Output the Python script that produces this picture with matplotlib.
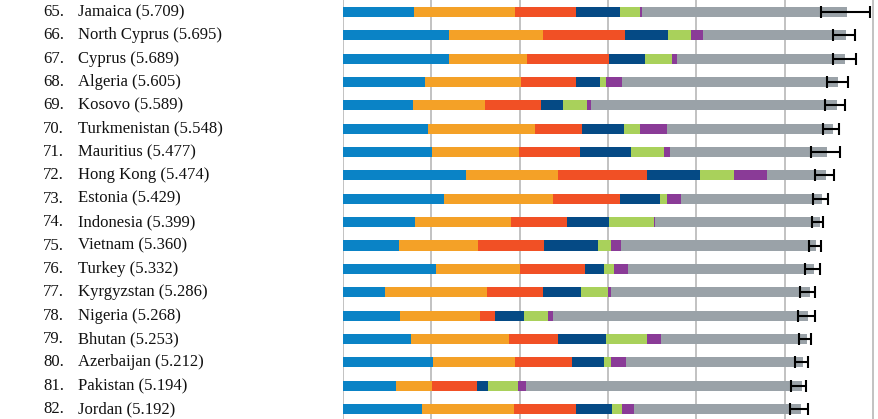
import numpy as np
import matplotlib
matplotlib.use("Agg")
import matplotlib.pyplot as plt
from matplotlib.transforms import blended_transform_factory

# World happiness ranking, rows 65-82
ranks = list(range(65, 83))
countries = ["Jamaica", "North Cyprus", "Cyprus", "Algeria", "Kosovo",
             "Turkmenistan", "Mauritius", "Hong Kong", "Estonia", "Indonesia",
             "Vietnam", "Turkey", "Kyrgyzstan", "Nigeria", "Bhutan",
             "Azerbaijan", "Pakistan", "Jordan"]
scores = [5.709, 5.695, 5.689, 5.605, 5.589, 5.548, 5.477, 5.474, 5.429,
          5.399, 5.360, 5.332, 5.286, 5.268, 5.253, 5.212, 5.194, 5.192]

# explained parts (the rest up to the score is dystopia + residual)
gdp = [0.809, 1.206, 1.206, 0.934, 0.798, 0.957, 1.004, 1.389, 1.148,
       0.821, 0.630, 1.058, 0.471, 0.650, 0.767, 1.023, 0.595, 0.899]
social = [1.144, 1.062, 0.883, 1.078, 0.805, 1.222, 0.984, 1.051, 1.226,
          1.086, 0.903, 0.942, 1.155, 0.906, 1.108, 0.930, 0.409, 1.043]
health = [0.689, 0.930, 0.927, 0.622, 0.634, 0.533, 0.701, 1.007, 0.766,
          0.634, 0.747, 0.735, 0.642, 0.160, 0.565, 0.646, 0.517, 0.700]
freedom = [0.498, 0.487, 0.408, 0.277, 0.249, 0.475, 0.568, 0.600, 0.451,
           0.475, 0.603, 0.226, 0.432, 0.338, 0.533, 0.362, 0.117, 0.409]
generosity = [0.218, 0.257, 0.304, 0.070, 0.277, 0.171, 0.373, 0.385, 0.078,
              0.509, 0.156, 0.113, 0.304, 0.269, 0.474, 0.078, 0.339, 0.112]
corruption = [0.023, 0.140, 0.058, 0.182, 0.050, 0.315, 0.078, 0.373, 0.164,
              0.010, 0.113, 0.159, 0.035, 0.051, 0.160, 0.171, 0.101, 0.137]

# confidence interval ends
ci_low = [5.409, 5.545, 5.545, 5.479, 5.455, 5.436, 5.300, 5.346, 5.319,
          5.311, 5.272, 5.230, 5.175, 5.152, 5.167, 5.117, 5.078, 5.066]
ci_high = [5.973, 5.798, 5.805, 5.720, 5.689, 5.615, 5.623, 5.564, 5.494,
           5.436, 5.416, 5.397, 5.350, 5.350, 5.304, 5.261, 5.245, 5.261]

colors = ["#0a83c6", "#f4a127", "#f15025", "#054a85", "#a9d15b",
          "#8a3b97", "#9aa2a8"]

parts = [gdp, social, health, freedom, generosity, corruption]
scores = np.array(scores)
explained = np.sum(np.array(parts), axis=0)
residual = scores - explained
parts.append(list(residual))

fig = plt.figure(figsize=(8.79, 4.19), dpi=100)
ax = fig.add_axes([343/879, 0, 1 - 343/879, 1])
y = np.arange(len(countries))

for xv in range(0, 7):
    ax.axvline(xv, color="#bdbdbd", lw=1.3, zorder=0)

left = np.zeros(len(countries))
for vals, c in zip(parts, colors):
    vals = np.array(vals)
    ax.barh(y, vals, left=left, height=0.43, color=c, zorder=2, linewidth=0)
    left = left + vals

xerr = [scores - np.array(ci_low), np.array(ci_high) - scores]
ax.errorbar(scores, y, xerr=xerr, fmt="none", ecolor="black",
            elinewidth=1.5, capsize=4, capthick=1.5, zorder=3)

ax.set_xlim(0, (879 - 343) / 88.3)
ax.set_ylim((419 - 12) / 23.35, -12 / 23.35)
ax.axis("off")

trans = blended_transform_factory(fig.transFigure, ax.transData)
for i in range(len(countries)):
    ax.text(64/879, y[i], "%d." % ranks[i], transform=trans, ha="right",
            va="center", fontsize=12, family="Liberation Serif", color="#111111")
    ax.text(78/879, y[i], "%s (%.3f)" % (countries[i], scores[i]),
            transform=trans, ha="left", va="center", fontsize=12,
            family="Liberation Serif", color="#111111")

fig.savefig("out.png", dpi=100)
plt.close()
